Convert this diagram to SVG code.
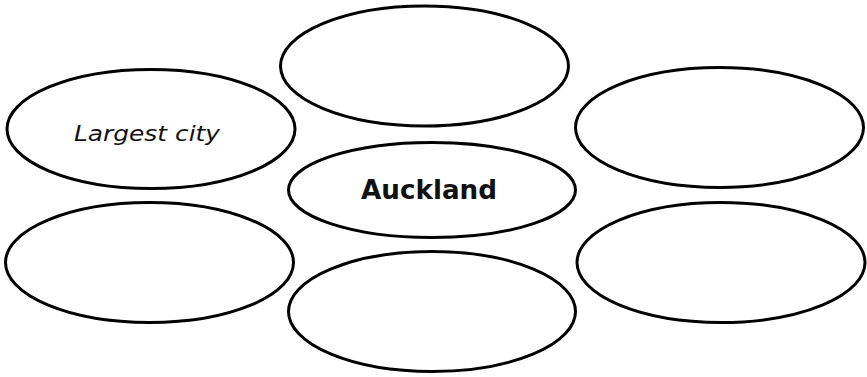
<svg xmlns="http://www.w3.org/2000/svg" width="867" height="377" viewBox="0 0 867 377">
<style>
.node ellipse{fill:#fff;stroke:#000;stroke-width:3}
.lbl{font-family:"Comic Sans MS","DejaVu Sans","Liberation Sans",sans-serif;fill:#111;text-anchor:middle}
</style>
<rect width="867" height="377" fill="#fff"/>
<g id="connectors"></g>
<g id="n-top" class="node"><ellipse cx="424.5" cy="66" rx="144" ry="60"/></g>
<g id="n-left-upper" class="node"><ellipse cx="151" cy="129" rx="144" ry="59.5"/>
<text class="lbl" x="147" y="141" font-size="22" font-style="italic" textLength="146" lengthAdjust="spacingAndGlyphs">Largest city</text></g>
<g id="n-right-upper" class="node"><ellipse cx="719.5" cy="127.5" rx="144" ry="60"/></g>
<g id="n-center" class="node"><ellipse cx="432" cy="190" rx="143.5" ry="47.5"/>
<text class="lbl" x="429" y="199" font-size="27" font-weight="bold" textLength="136" lengthAdjust="spacingAndGlyphs">Auckland</text></g>
<g id="n-left-lower" class="node"><ellipse cx="149.5" cy="262.5" rx="144" ry="60"/></g>
<g id="n-bottom" class="node"><ellipse cx="432" cy="311.5" rx="143.5" ry="60"/></g>
<g id="n-right-lower" class="node"><ellipse cx="721" cy="262.5" rx="144" ry="60"/></g>
</svg>
